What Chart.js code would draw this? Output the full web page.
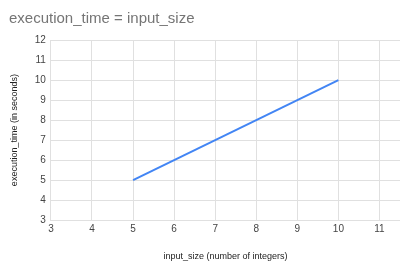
<!DOCTYPE html>
<html>
<head>
<meta charset="utf-8">
<script src="https://cdn.jsdelivr.net/npm/chart.js@4/dist/chart.umd.min.js"></script>
<style>
  html, body { margin: 0; padding: 0; background: #fff; }
  #wrap { width: 400px; height: 266px; }
</style>
</head>
<body>
<div id="wrap"><canvas id="chart"></canvas></div>
<script>
const inputSize = [5, 10];
const executionTime = [5, 10];
const xTicks = [3, 4, 5, 6, 7, 8, 9, 10, 11];
const yTicks = [3, 4, 5, 6, 7, 8, 9, 10, 11, 12];
const xMax = 11.5;

const gridColor = "#e0e0e0";
const font = "Arial, 'Liberation Sans', sans-serif";

new Chart(document.getElementById("chart"), {
  type: "scatter",
  data: {
    datasets: [
      {
        label: "execution_time",
        data: inputSize.map((x, i) => ({ x: x, y: executionTime[i] })),
        showLine: true,
        borderColor: "#4285f4",
        borderWidth: 2,
        pointRadius: 0,
        fill: false,
      },
    ],
  },
  options: {
    responsive: true,
    maintainAspectRatio: false,
    animation: false,
    layout: { padding: { left: 9, right: 0, top: 0, bottom: 4 } },
    scales: {
      x: {
        type: "linear",
        min: xTicks[0],
        max: xMax,
        afterBuildTicks: (scale) => {
          scale.ticks = xTicks.map((v) => ({ value: v }));
        },
        ticks: {
          color: "#444",
          font: { family: font, size: 10 },
          maxRotation: 0,
          padding: 3,
        },
        grid: { color: gridColor, drawTicks: false },
        border: { color: gridColor },
        title: {
          display: true,
          text: "input_size (number of integers)",
          color: "#222",
          font: { family: font, size: 9 },
          padding: { top: 13, bottom: 0 },
        },
      },
      y: {
        min: yTicks[0],
        max: yTicks[yTicks.length - 1],
        afterBuildTicks: (scale) => {
          scale.ticks = yTicks.map((v) => ({ value: v }));
        },
        ticks: {
          color: "#444",
          font: { family: font, size: 10 },
          padding: 5,
        },
        grid: { color: gridColor, drawTicks: false },
        border: { color: gridColor },
        title: {
          display: true,
          text: "execution_time (in seconds)",
          color: "#222",
          font: { family: font, size: 9 },
          padding: { top: 0, bottom: 10 },
        },
      },
    },
    plugins: {
      legend: { display: false },
      tooltip: { enabled: false },
      title: {
        display: true,
        text: "execution_time = input_size",
        align: "start",
        color: "#757575",
        font: { family: font, size: 15, weight: "normal" },
        padding: { top: 10, bottom: 12 },
      },
    },
  },
});
</script>
</body>
</html>
